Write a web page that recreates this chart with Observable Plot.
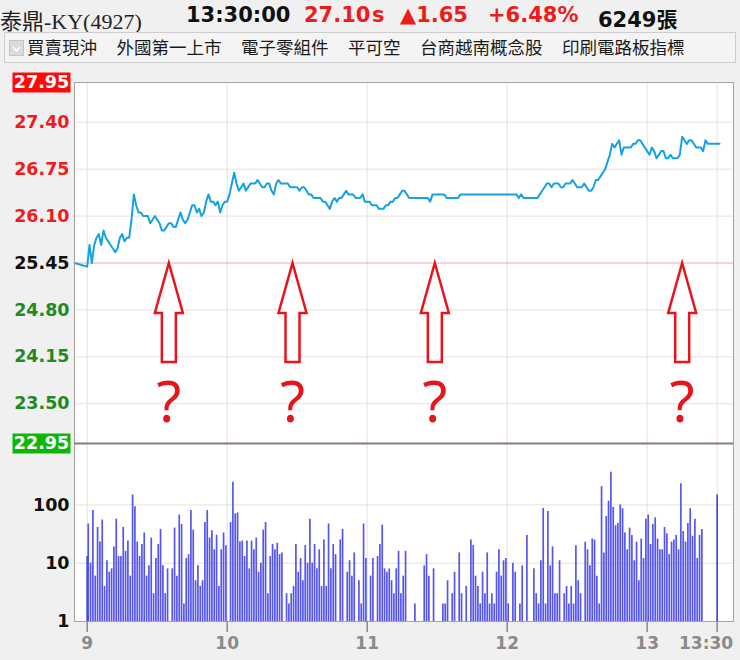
<!DOCTYPE html>
<html><head><meta charset="utf-8">
<script src="https://cdn.jsdelivr.net/npm/d3@7"></script>
<script src="https://cdn.jsdelivr.net/npm/@observablehq/plot@0.6"></script>
<style>
html,body{margin:0;padding:0;}
body{background:#f0f0f0;width:740px;height:660px;position:relative;overflow:hidden;font-family:"DejaVu Sans",sans-serif;}
.abs{position:absolute;white-space:nowrap;}
.q{top:3px;font:bold 21px "DejaVu Sans","Noto Sans CJK TC",sans-serif;}
#name{left:0;top:3px;font:22px "Liberation Serif","Noto Sans CJK TC",serif;color:#222;}
#tagbar{left:4px;top:32px;width:730px;height:29px;border:1px solid #cdcdcd;background:#f4f4f4;}
#tags{position:absolute;left:22px;top:2px;display:flex;gap:19.5px;font:17.5px "Noto Sans CJK TC",sans-serif;color:#1a1a1a;line-height:24px;}
#chk{position:absolute;left:4px;top:7px;width:13px;height:14px;background:#dadada;border:1px solid #c4c4c4;}
</style></head>
<body>
<div id="name" class="abs"></div>
<div id="tagbar" class="abs"><div id="chk"><svg width="13" height="14"><polyline points="3,5 6.5,9 10,5" fill="none" stroke="#fff" stroke-width="1.6"/></svg></div><div id="tags"></div></div>
<div id="vol" class="abs" style="left:0;top:443px"></div>
<div id="price" class="abs" style="left:0;top:70px"></div>
<script>
// ---------- data ----------
const stockName = "泰鼎-KY(4927)";
const quoteTime = "13:30:00";
const lastPrice = "27.10";
const lastFlag = "s";
const changeText = "▲1.65";
const changePct = "+6.48%";
const totalVolume = "6249張";
const tags = ["買賣現沖","外國第一上市","電子零組件","平可空","台商越南概念股","印刷電路板指標"];

const refPrice = 25.45;
const limitUp = 27.95;
const limitDown = 22.95;
const priceTicks = [27.95, 27.40, 26.75, 26.10, 25.45, 24.80, 24.15, 23.50, 22.95];
const hourMinutes = [0, 60, 120, 180, 240, 270];
const hourLabels = ["9", "10", "11", "12", "13", "13:30"];
const volumeTicks = [1, 10, 100];

// price per minute from 9:00 (index = minutes after 9:00)
const price = [
 25.40,25.70,25.45,25.70,25.80,25.85,25.70,25.90,25.80,25.75,
 25.70,25.65,25.60,25.65,25.80,25.85,25.75,25.80,25.80,26.05,
 26.40,26.25,26.15,26.15,26.10,26.10,26.10,26.00,26.05,26.10,
 26.05,26.00,25.90,25.90,25.95,26.00,26.00,25.95,25.95,26.05,
 26.15,26.05,26.00,26.05,26.15,26.25,26.25,26.15,26.20,26.10,
 26.15,26.30,26.40,26.30,26.30,26.25,26.30,26.15,26.25,26.30,
 26.30,26.40,26.55,26.70,26.55,26.45,26.50,26.55,26.45,26.50,
 26.55,26.55,26.55,26.60,26.55,26.50,26.50,26.55,26.55,26.45,
 26.40,26.55,26.60,26.55,26.55,26.55,26.55,26.50,26.50,26.50,
 26.50,26.45,26.50,26.50,26.45,26.40,26.40,26.35,26.35,26.35,
 26.35,26.30,26.30,26.25,26.20,26.30,26.35,26.30,26.35,26.35,
 26.40,26.45,26.40,26.40,26.40,26.35,26.35,26.35,26.40,26.30,
 26.30,26.30,26.25,26.25,26.25,26.20,26.20,26.20,26.25,26.25,
 26.30,26.30,26.35,26.35,26.40,26.45,26.45,26.40,26.35,26.35,
 26.35,26.35,26.35,26.35,26.35,26.35,26.35,26.30,26.40,26.40,
 26.40,26.40,26.40,26.40,26.35,26.35,26.35,26.35,26.35,26.35,
 26.40,26.40,26.40,26.40,26.40,26.40,26.40,26.40,26.40,26.40,
 26.40,26.40,26.40,26.40,26.40,26.40,26.40,26.40,26.40,26.40,
 26.40,26.40,26.40,26.40,26.40,26.35,26.40,26.35,26.35,26.35,
 26.35,26.35,26.35,26.35,26.40,26.45,26.50,26.55,26.55,26.50,
 26.55,26.55,26.55,26.50,26.50,26.55,26.55,26.55,26.60,26.55,
 26.50,26.50,26.50,26.55,26.50,26.45,26.45,26.50,26.60,26.60,
 26.65,26.70,26.75,26.85,26.95,27.10,27.05,27.10,27.15,26.95,
 27.05,27.05,27.05,27.05,27.10,27.10,27.15,27.15,27.10,27.05,
 27.00,26.95,27.05,27.00,26.90,26.95,27.00,27.00,26.90,26.90,
 26.95,26.90,26.90,26.90,26.95,27.20,27.15,27.10,27.15,27.15,
 27.10,27.05,27.05,27.05,27.00,27.15,27.10,27.10,27.10,27.10,
 27.10,27.10
];

// volume (張) per minute from 9:00
const volume = [
 47,10,80,6,41,23,55,4,11,7,
 8,19,57,13,13,41,16,24,6,148,
 93,23,13,21,33,6,9,27,3,12,
 21,38,9,3,8,0,8,40,6,67,
 46,2,12,14,80,37,5,9,4,5,
 50,80,27,36,17,30,4,17,33,20,
 0,50,245,70,73,23,24,13,24,8,
 24,17,27,7,10,37,50,3,13,21,
 17,22,14,15,0,3,2,3,4,21,
 7,12,5,20,10,57,10,21,8,17,
 4,25,4,47,8,21,14,0,25,38,
 0,7,11,6,15,0,5,2,47,12,
 0,6,12,0,13,21,45,8,7,8,
 5,3,8,16,3,6,16,0,0,0,
 2,0,0,0,9,14,6,0,8,0,
 0,0,2,2,5,0,3,7,0,15,
 3,0,4,0,25,20,6,4,2,7,
 3,15,2,3,2,7,17,6,11,12,
 2,0,10,7,0,2,9,0,30,0,
 0,8,3,2,11,87,2,77,9,19,
 3,3,11,0,3,4,2,4,2,20,
 5,3,0,23,17,9,26,25,6,2,
 206,15,63,116,363,91,44,48,100,86,
 33,17,40,30,11,23,5,26,12,57,
 67,21,46,60,26,17,17,41,32,14,
 23,25,30,17,230,35,23,48,86,29,
 57,12,30,38
];
// opening / closing auction volumes
const auctionMinute = [0, 270];
const auctionVolume = [13, 148];

// annotation: arrows pointing up from the reference line, question marks below
const markMinutes = [35, 88, 149, 255];
const questionPrice = 23.50;

// ---------- layout / style ----------
const xDomain = [-5.44, 277];
const volDomain = [1, 1130];
const W = 740, ML = 74, MR = 7;
const RED = "#ee1c1c", GREEN = "#1f8a1f";

// header
const hdr = [
  [quoteTime, 186, "#111"],
  [lastPrice, 304, RED],
  [lastFlag, 372, RED],
  [changeText, 400, RED],
  [changePct, 488, RED],
  [totalVolume, 598, "#111"]
];
document.getElementById("name").textContent = stockName;
for (const [t, left, c] of hdr) {
  const s = document.createElement("div");
  s.className = "abs q"; s.style.left = left + "px"; s.style.color = c; s.textContent = t;
  document.body.appendChild(s);
}
const tg = document.getElementById("tags");
for (const t of tags) { const s = document.createElement("span"); s.textContent = t; tg.appendChild(s); }

const boxSym = {draw(ctx){ ctx.rect(-29, -10, 58, 20); }};
const arrowSym = {draw(ctx){
  ctx.moveTo(0, 0); ctx.lineTo(14, 50); ctx.lineTo(7, 50); ctx.lineTo(7, 99);
  ctx.lineTo(-7, 99); ctx.lineTo(-7, 50); ctx.lineTo(-14, 50); ctx.closePath();
}};

const lineData = [{m: xDomain[0], p: refPrice}, ...price.map((p, i) => ({m: i, p}))];
const gridPrices = priceTicks.filter(d => d !== limitUp && d !== limitDown && d !== refPrice);
const upTicks = priceTicks.filter(d => d > refPrice && d !== limitUp);
const downTicks = priceTicks.filter(d => d < refPrice && d !== limitDown);
const labelFont = {fontWeight: "bold", fontSize: 17.5, fontFamily: "DejaVu Sans"};
const xLabelFont = {fontWeight: "bold", fontSize: 17, fontFamily: "DejaVu Sans", fill: "#8a8a8a"};

const pricePlot = Plot.plot({
  width: W, height: 380, marginTop: 12, marginBottom: 7, marginLeft: ML, marginRight: MR,
  style: {background: "transparent", overflow: "visible", fontFamily: "DejaVu Sans"},
  x: {type: "linear", domain: xDomain, axis: null, label: null},
  y: {domain: [limitDown, limitUp], axis: null, label: null},
  marks: [
    Plot.frame({fill: "white", stroke: "none"}),
    Plot.ruleY(gridPrices, {stroke: "#e6e0e0"}),
    Plot.ruleX(hourMinutes, {stroke: "#e6e0e0"}),
    Plot.ruleY([refPrice], {stroke: "#e6aab6"}),
    Plot.line(lineData, {x: "m", y: "p", stroke: "#15a2e2", strokeWidth: 2}),
    Plot.dot(markMinutes, {x: d => d, y: () => refPrice, symbol: arrowSym, fill: "white", stroke: "#e8141c", strokeWidth: 2.5}),
    Plot.text(markMinutes, {x: d => d, y: () => questionPrice, text: () => "?", fontSize: 57, fill: "#e8141c", fontFamily: "Noto Sans"}),
    Plot.frame({stroke: "#aaa49e"}),
    Plot.ruleY([limitDown], {stroke: "#8c7c72", strokeWidth: 2}),
    Plot.text(upTicks, {y: d => d, frameAnchor: "left", dx: -5, textAnchor: "end", text: d => d.toFixed(2), fill: RED, ...labelFont}),
    Plot.text([refPrice], {y: d => d, frameAnchor: "left", dx: -5, textAnchor: "end", text: d => d.toFixed(2), fill: "#111", ...labelFont}),
    Plot.text(downTicks, {y: d => d, frameAnchor: "left", dx: -5, textAnchor: "end", text: d => d.toFixed(2), fill: GREEN, ...labelFont}),
    Plot.dot([limitUp], {y: d => d, frameAnchor: "left", dx: -33, symbol: boxSym, fill: "#ff0a0a", stroke: "none"}),
    Plot.dot([limitDown], {y: d => d, frameAnchor: "left", dx: -33, symbol: boxSym, fill: "#0ab80a", stroke: "none"}),
    Plot.text([limitUp, limitDown], {y: d => d, frameAnchor: "left", dx: -33, textAnchor: "middle", text: d => d.toFixed(2), fill: "white", ...labelFont})
  ]
});
document.getElementById("price").appendChild(pricePlot);

const volData = volume.map((v, i) => ({m: i, v})).filter(d => d.v > 0);
const auctionData = auctionMinute.map((m, i) => ({m, v: auctionVolume[i]}));
const lastHour = hourMinutes[hourMinutes.length - 1];
const volPlot = Plot.plot({
  width: W, height: 217, marginTop: 0, marginBottom: 39, marginLeft: ML, marginRight: MR,
  style: {background: "transparent", overflow: "visible", fontFamily: "DejaVu Sans"},
  x: {type: "linear", domain: xDomain, label: null},
  y: {type: "log", domain: volDomain, axis: null, label: null},
  marks: [
    Plot.frame({fill: "white", stroke: "none"}),
    Plot.ruleY([10, 100], {stroke: "#e6e0e0"}),
    Plot.ruleX(hourMinutes, {stroke: "#e6e0e0"}),
    Plot.ruleX(volData, {x: d => d.m + 0.45, y1: () => 1, y2: "v", stroke: "#5656ee", strokeWidth: 1.7}),
    Plot.ruleX(auctionData, {x: "m", y1: () => 1, y2: "v", stroke: "#4444ee", strokeWidth: 1.7}),
    Plot.frame({stroke: "#aaa49e"}),
    Plot.axisX(hourMinutes, {tickFormat: () => "", tickSize: 11, label: null, stroke: "#8a8a8a", strokeWidth: 1.5}),
    Plot.text(hourMinutes.filter(d => d !== lastHour), {x: d => d, frameAnchor: "bottom", dy: 27, text: d => hourLabels[hourMinutes.indexOf(d)], textAnchor: "middle", ...xLabelFont}),
    Plot.text([lastHour], {x: d => d, frameAnchor: "bottom", dy: 27, dx: 16, text: d => hourLabels[hourMinutes.indexOf(d)], textAnchor: "end", ...xLabelFont}),
    Plot.text(volumeTicks, {y: d => d, frameAnchor: "left", dx: -5, textAnchor: "end", text: d => String(d), fill: "#111", ...labelFont})
  ]
});
document.getElementById("vol").appendChild(volPlot);
</script>
</body></html>
